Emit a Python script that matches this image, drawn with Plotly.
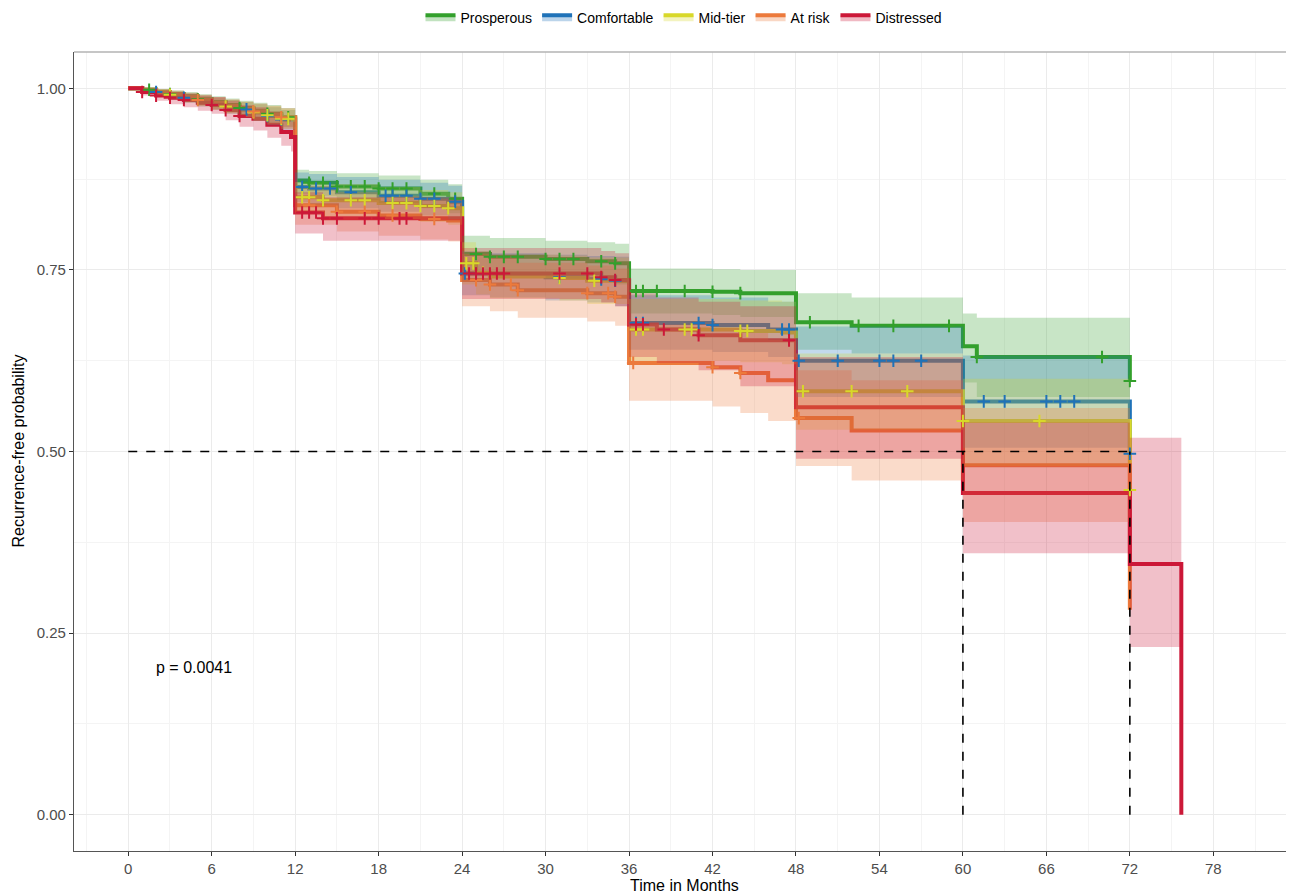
import plotly.graph_objects as go

# ---------------- data ----------------
groups = ["Prosperous", "Comfortable", "Mid-tier", "At risk", "Distressed"]
colors = ["#33a02c", "#1f72b8", "#d8d82a", "#ec7a3c", "#cc1838"]

m12 = [0, 1, 2, 3, 4, 5, 6, 7, 8, 9, 10, 11]

g_t = m12 + [12, 13, 15, 18, 21, 23, 24, 26, 30, 33, 35, 36, 42, 44, 48, 52, 60, 61, 72]
g_s = [1.0, 0.998, 0.995, 0.992, 0.989, 0.985, 0.981, 0.977, 0.973, 0.969, 0.965, 0.960,
       0.873, 0.870, 0.865, 0.862, 0.855, 0.848, 0.772, 0.768, 0.765, 0.762, 0.759,
       0.721, 0.720, 0.718, 0.678, 0.673, 0.645, 0.630, 0.597]
g_lo = [1.0, 0.994, 0.99, 0.986, 0.982, 0.977, 0.972, 0.967, 0.962, 0.957, 0.952, 0.947,
        0.855, 0.852, 0.846, 0.842, 0.835, 0.828, 0.745, 0.742, 0.738, 0.735, 0.73,
        0.69, 0.688, 0.685, 0.64, 0.635, 0.595, 0.575, 0.54]
g_hi = [1.0, 1.0, 0.999, 0.997, 0.995, 0.992, 0.989, 0.986, 0.983, 0.98, 0.977, 0.973,
        0.888, 0.886, 0.883, 0.88, 0.874, 0.868, 0.797, 0.794, 0.79, 0.788, 0.786,
        0.752, 0.751, 0.75, 0.718, 0.712, 0.69, 0.684, 0.66]

b_t = m12 + [12, 13, 15, 18, 21, 23, 24, 26, 30, 33, 35, 36, 42, 46, 48, 60, 72]
b_s = [1.0, 0.998, 0.995, 0.991, 0.987, 0.983, 0.979, 0.975, 0.971, 0.967, 0.962, 0.957,
       0.864, 0.862, 0.857, 0.852, 0.848, 0.844, 0.745, 0.742, 0.740, 0.737, 0.735,
       0.677, 0.674, 0.668, 0.625, 0.569, 0.497]
b_lo = [1.0, 0.994, 0.99, 0.985, 0.98, 0.975, 0.97, 0.965, 0.96, 0.955, 0.949, 0.943,
        0.843, 0.84, 0.835, 0.83, 0.825, 0.82, 0.715, 0.712, 0.708, 0.705, 0.70,
        0.64, 0.637, 0.63, 0.575, 0.505, 0.43]
b_hi = [1.0, 1.0, 0.999, 0.996, 0.993, 0.99, 0.987, 0.984, 0.981, 0.978, 0.974, 0.97,
        0.884, 0.882, 0.878, 0.874, 0.870, 0.866, 0.776, 0.773, 0.771, 0.769, 0.768,
        0.715, 0.712, 0.706, 0.672, 0.632, 0.57]

y_t = m12 + [12, 14, 18, 21, 23, 24, 25, 26, 31, 33, 36, 44, 47, 48, 60, 72]
y_s = [1.0, 0.998, 0.995, 0.991, 0.987, 0.983, 0.979, 0.975, 0.971, 0.967, 0.963, 0.958,
       0.850, 0.846, 0.842, 0.838, 0.835, 0.759, 0.746, 0.741, 0.739, 0.735,
       0.668, 0.666, 0.664, 0.583, 0.542, 0.447]
y_lo = [1.0, 0.994, 0.99, 0.985, 0.98, 0.975, 0.97, 0.965, 0.96, 0.955, 0.95, 0.944,
        0.828, 0.824, 0.82, 0.816, 0.812, 0.73, 0.716, 0.711, 0.708, 0.703,
        0.625, 0.623, 0.62, 0.53, 0.48, 0.38]
y_hi = [1.0, 1.0, 0.999, 0.996, 0.993, 0.99, 0.987, 0.984, 0.981, 0.978, 0.975, 0.971,
        0.871, 0.868, 0.864, 0.86, 0.857, 0.788, 0.776, 0.771, 0.77, 0.767,
        0.71, 0.708, 0.706, 0.635, 0.60, 0.52]

o_t = m12 + [12, 15, 18, 21, 23, 24, 26, 28, 33, 35, 36, 42, 44, 46, 48, 52, 60, 72]
o_s = [1.0, 0.998, 0.995, 0.992, 0.988, 0.984, 0.98, 0.976, 0.972, 0.968, 0.964, 0.96,
       0.839, 0.83, 0.825, 0.82, 0.818, 0.736, 0.73, 0.722, 0.718, 0.713,
       0.622, 0.616, 0.608, 0.598, 0.546, 0.529, 0.481, 0.282]
o_lo = [1.0, 0.994, 0.99, 0.986, 0.981, 0.976, 0.971, 0.966, 0.961, 0.956, 0.951, 0.946,
        0.812, 0.803, 0.797, 0.792, 0.789, 0.70, 0.693, 0.684, 0.679, 0.673,
        0.57, 0.562, 0.553, 0.542, 0.48, 0.46, 0.403, 0.2]
o_hi = [1.0, 1.0, 0.999, 0.997, 0.994, 0.991, 0.988, 0.985, 0.982, 0.979, 0.976, 0.973,
        0.866, 0.857, 0.852, 0.848, 0.846, 0.772, 0.767, 0.76, 0.756, 0.752,
        0.675, 0.67, 0.663, 0.654, 0.612, 0.598, 0.56, 0.38]

r_t = m12 + [11.7, 12, 14, 24, 34, 35, 36, 38, 41, 44, 48, 60, 72, 75.7]
r_s = [1.0, 0.995, 0.99, 0.987, 0.984, 0.98, 0.977, 0.97, 0.962, 0.958, 0.95, 0.94, 0.933,
       0.829, 0.821, 0.745, 0.74, 0.736, 0.675, 0.668, 0.66, 0.653, 0.561, 0.443, 0.345, 0.0]
r_lo = [1.0, 0.99, 0.983, 0.978, 0.974, 0.969, 0.965, 0.956, 0.947, 0.942, 0.932, 0.921, 0.913,
        0.80, 0.79, 0.71, 0.705, 0.70, 0.63, 0.622, 0.612, 0.59, 0.49, 0.36, 0.231, 0.0]
r_hi = [1.0, 1.0, 0.997, 0.995, 0.993, 0.99, 0.988, 0.983, 0.977, 0.974, 0.968, 0.96, 0.954,
        0.857, 0.85, 0.78, 0.776, 0.773, 0.718, 0.712, 0.706, 0.70, 0.63, 0.54, 0.519, 0.0]

# censoring times per group
g_cens = [1.5, 3, 5, 8, 10, 11.5, 13, 14, 15, 16, 17, 18, 19, 20, 22, 23.5, 25, 26, 27, 28,
          30, 31, 32, 34, 35, 36.5, 37, 38, 40, 42, 44, 49, 52.5, 55, 59, 61, 70, 72]
b_cens = [2, 4, 8.5, 10, 11, 12.5, 13.5, 14.5, 16, 18.5, 19, 20, 21, 22, 23.5, 24.2, 25, 31,
          34, 35, 36.5, 37, 41, 42, 47, 47.5, 48.2, 51, 54, 55, 57, 61.5, 63, 66, 67, 68, 72]
y_cens = [3, 7, 9, 10, 11, 11.5, 12.5, 13, 14, 16, 17, 19, 20, 21, 22, 23, 24.3, 24.8, 25.5,
          31, 33.5, 36.5, 37, 40, 40.5, 44, 44.5, 48.5, 52, 56, 60, 65.5, 72]
o_cens = [5, 9, 11, 13, 15, 17, 19, 22, 25, 26, 27.5, 28, 33, 34.5, 35, 36.3, 42, 44, 48.2]
r_cens = [1, 2, 3, 4, 6, 7, 8, 12.5, 13, 13.5, 14, 15, 17, 18, 19.5, 20, 24.5, 25, 25.5,
          26, 26.5, 27, 31, 33, 34, 35, 36.5, 37, 38.5, 41, 47.5]

median_level = 0.5
median_times = [60, 72]
p_text = "p = 0.0041"

x_ticks = list(range(0, 79, 6))
y_ticks = [0.0, 0.25, 0.5, 0.75, 1.0]

curves = [
    (g_t, g_s, g_lo, g_hi, g_cens),
    (b_t, b_s, b_lo, b_hi, b_cens),
    (y_t, y_s, y_lo, y_hi, y_cens),
    (o_t, o_s, o_lo, o_hi, o_cens),
    (r_t, r_s, r_lo, r_hi, r_cens),
]

FONT = "Liberation Sans, Arial, sans-serif"


def rgba(hexc, a):
    h = hexc.lstrip("#")
    return "rgba(%d,%d,%d,%s)" % (int(h[0:2], 16), int(h[2:4], 16), int(h[4:6], 16), a)


def step_at(ts, ss, t):
    v = ss[0]
    for ti, si in zip(ts, ss):
        if ti <= t:
            v = si
        else:
            break
    return v


fig = go.Figure()

# survival step lines
for name, col, (t, s, lo, hi, cens) in zip(groups, colors, curves):
    fig.add_trace(go.Scatter(x=t, y=s, mode="lines", line=dict(color=col, width=4, shape="hv"),
                             showlegend=False, hoverinfo="skip"))

# confidence ribbons (drawn over lines, like ggsurvplot)
for name, col, (t, s, lo, hi, cens) in zip(groups, colors, curves):
    fig.add_trace(go.Scatter(x=t, y=hi, mode="lines", line=dict(width=0, shape="hv"),
                             showlegend=False, hoverinfo="skip"))
    fig.add_trace(go.Scatter(x=t, y=lo, mode="lines", line=dict(width=0, shape="hv"),
                             fill="tonexty", fillcolor=rgba(col, 0.27),
                             showlegend=False, hoverinfo="skip"))

# censor marks
for name, col, (t, s, lo, hi, cens) in zip(groups, colors, curves):
    fig.add_trace(go.Scatter(x=cens, y=[step_at(t, s, c) for c in cens], mode="markers",
                             marker=dict(symbol="cross-thin", size=9, line=dict(color=col, width=2)),
                             showlegend=False, hoverinfo="skip"))

# median lines
fig.add_trace(go.Scatter(x=[0, max(median_times)], y=[median_level, median_level], mode="lines",
                         line=dict(color="black", width=1.6, dash="dash"), showlegend=False))
for mt in median_times:
    fig.add_trace(go.Scatter(x=[mt, mt], y=[0, median_level], mode="lines",
                             line=dict(color="black", width=1.6, dash="dash"), showlegend=False))

# legend entries
for name, col in zip(groups, colors):
    fig.add_trace(go.Scatter(x=[None], y=[None], mode="lines", name=name,
                             fill="toself", fillcolor=rgba(col, 0.3),
                             line=dict(color=col, width=4)))

fig.add_annotation(x=4.7, y=0.202, text=p_text, showarrow=False,
                   font=dict(size=16, color="black", family=FONT))

# axis titles
fig.add_annotation(xref="paper", yref="paper", x=0.5, y=0, yshift=-34, text="Time in Months",
                   showarrow=False, yanchor="middle", font=dict(size=16, color="black", family=FONT))
fig.add_annotation(xref="paper", yref="paper", x=0, y=0.5, xshift=-56, textangle=-90,
                   text="Recurrence-free probability", showarrow=False, xanchor="center",
                   font=dict(size=16, color="black", family=FONT))

fig.add_shape(type="line", xref="paper", yref="paper", x0=0, x1=1, y0=1, y1=1,
              line=dict(color="#b3b3b3", width=1.5))

# the page body adds an 8px offset; size the figure so the panel lands where the reference has it
fig.update_layout(
    width=1286, height=887,
    margin=dict(l=66, r=0, t=44, b=44, autoexpand=False),
    paper_bgcolor="white", plot_bgcolor="white",
    font=dict(family=FONT, color="black"),
    legend=dict(orientation="h", x=0.5, xanchor="center", y=1.043, yanchor="middle",
                font=dict(size=14), traceorder="normal", itemwidth=30),
    xaxis=dict(range=[-3.9, 83.8], tickmode="array", tickvals=x_ticks,
               ticktext=[str(v) for v in x_ticks], automargin=False,
               showgrid=True, gridcolor="#ebebeb", gridwidth=1.3,
               minor=dict(dtick=3, tick0=0, showgrid=True, gridcolor="#f4f4f4", gridwidth=0.8),
               showline=True, linecolor="#555555", linewidth=1.2,
               ticks="outside", ticklen=4, tickcolor="#333333",
               tickfont=dict(size=15, color="#4d4d4d"), zeroline=False),
    yaxis=dict(range=[-0.05, 1.05], tickmode="array", tickvals=y_ticks,
               ticktext=["%.2f" % v for v in y_ticks], automargin=False,
               showgrid=True, gridcolor="#ebebeb", gridwidth=1.3,
               minor=dict(dtick=0.125, tick0=0, showgrid=True, gridcolor="#f4f4f4", gridwidth=0.8),
               showline=True, linecolor="#555555", linewidth=1.2,
               ticks="outside", ticklen=4, tickcolor="#333333",
               tickfont=dict(size=15, color="#4d4d4d"), zeroline=False),
)

fig.write_html("out.html")
